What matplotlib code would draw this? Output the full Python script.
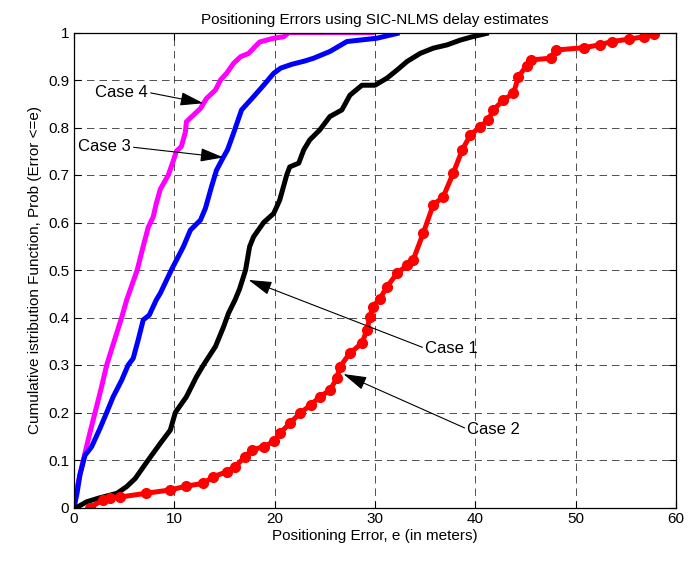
import numpy as np
import matplotlib
matplotlib.use("Agg")
import matplotlib.pyplot as plt

# CDF curves (positioning error in m, cumulative probability)
case4_x = [0, 0.3, 0.6, 0.93, 1.5, 2.1, 2.7, 3.26, 4.0, 4.75, 5.25, 5.8, 6.3, 6.9, 7.4, 7.9,
           8.2, 8.6, 9.4, 9.9, 10.2, 10.7, 11.1, 11.2, 12.6, 13.2, 14.1, 14.6, 15.2, 15.9,
           16.6, 17.4, 18.5, 19.9, 20.9, 21.4, 25.0, 29.7]
case4_y = [0, 0.04, 0.07, 0.1, 0.15, 0.2, 0.25, 0.3, 0.35, 0.4, 0.437, 0.47, 0.5, 0.55, 0.59, 0.612,
           0.64, 0.67, 0.70, 0.73, 0.75, 0.76, 0.79, 0.812, 0.84, 0.861, 0.879, 0.9, 0.914, 0.935,
           0.949, 0.956, 0.98, 0.988, 0.991, 1.0, 1.0, 1.0]

case3_x = [0, 0.3, 0.6, 1.1, 1.76, 2.6, 3.26, 3.9, 4.75, 5.4, 5.9, 6.4, 6.9, 7.5, 8.2, 8.6,
           9.7, 10.9, 11.6, 12.6, 13.1, 13.7, 14.2, 14.9, 15.3, 15.9, 16.7, 17.9, 18.9, 19.9,
           20.6, 21.7, 23.0, 23.9, 25.5, 27.2, 30.2, 31.2, 32.2]
case3_y = [0, 0.03, 0.07, 0.11, 0.128, 0.167, 0.2, 0.233, 0.268, 0.3, 0.314, 0.353, 0.395, 0.405,
           0.437, 0.451, 0.5, 0.549, 0.584, 0.605, 0.63, 0.675, 0.71, 0.738, 0.753, 0.788, 0.837,
           0.865, 0.889, 0.914, 0.925, 0.933, 0.94, 0.946, 0.96, 0.981, 0.988, 0.993, 0.998]

case1_x = [0.27, 1.26, 2.5, 4.3, 5.25, 6.1, 7.4, 8.6, 9.6, 10.1, 11.2, 12.2, 12.9, 14.1, 14.9,
           15.4, 16.05, 16.5, 17.1, 17.5, 17.9, 18.9, 19.9, 20.5, 21.2, 21.5, 22.4, 22.9, 23.5,
           24.5, 25.5, 26.7, 27.5, 28.7, 30.0, 31.2, 32.2, 33.2, 34.5, 35.8, 37.2, 38.5, 39.7, 41.1]
case1_y = [0, 0.012, 0.02, 0.03, 0.044, 0.061, 0.1, 0.135, 0.163, 0.2, 0.233, 0.275, 0.3, 0.339,
           0.38, 0.409, 0.437, 0.46, 0.5, 0.549, 0.57, 0.6, 0.619, 0.647, 0.7, 0.717, 0.725, 0.753,
           0.774, 0.795, 0.823, 0.837, 0.868, 0.889, 0.889, 0.904, 0.921, 0.939, 0.956, 0.967,
           0.974, 0.984, 0.991, 0.998]

case2_x = [1.6, 2.9, 3.6, 4.6, 7.2, 9.6, 11.2, 12.9, 13.9, 15.2, 16.05, 17.05, 17.7, 18.9, 19.9,
           20.5, 21.5, 22.5, 23.6, 24.5, 25.5, 26.2, 26.5, 27.5, 28.7, 29.2, 29.5, 29.8, 30.5,
           31.2, 32.2, 33.2, 33.8, 34.8, 35.8, 36.8, 37.8, 38.7, 39.5, 40.5, 41.3, 41.8, 42.8,
           43.8, 44.3, 45.1, 45.5, 47.5, 48.0, 50.8, 52.4, 53.6, 55.3, 56.8, 57.8]
case2_y = [0, 0.016, 0.02, 0.022, 0.03, 0.037, 0.045, 0.051, 0.065, 0.075, 0.086, 0.107, 0.121,
           0.128, 0.139, 0.156, 0.177, 0.198, 0.216, 0.233, 0.247, 0.272, 0.296, 0.325, 0.346,
           0.374, 0.402, 0.423, 0.44, 0.465, 0.493, 0.51, 0.521, 0.577, 0.637, 0.654, 0.704,
           0.753, 0.784, 0.802, 0.816, 0.837, 0.858, 0.872, 0.907, 0.93, 0.942, 0.946, 0.963,
           0.968, 0.974, 0.981, 0.986, 0.991, 0.996]

# annotation: label, text position, arrow tip
case_labels = ["Case 4", "Case 3", "Case 1", "Case 2"]
label_xy = [(2.1, 0.874), (0.4, 0.759), (35.0, 0.335), (39.2, 0.165)]
tip_xy = [(12.9, 0.851), (14.9, 0.737), (17.4, 0.479), (26.85, 0.281)]

plt.rcParams['font.family'] = ['Liberation Sans', 'DejaVu Sans']
plt.rcParams['font.size'] = 11

fig = plt.figure(figsize=(6.89, 5.61), dpi=100)
ax = fig.add_axes([74 / 689, 1 - 507.5 / 561, 602 / 689, 475 / 561])

lw = 3.6
ax.plot(case4_x, case4_y, color='#ff00ff', linewidth=lw)
ax.plot(case3_x, case3_y, color='#0000ff', linewidth=lw)
ax.plot(case1_x, case1_y, color='black', linewidth=lw)
ax.plot(case2_x, case2_y, color='#ff0000', linewidth=lw, marker='o', markersize=7)

for lab, txy, tip in zip(case_labels, label_xy, tip_xy):
    # left labels: arrow leaves from the end of the text, right labels: from its start
    rel = (1.0, 0.5) if lab in ("Case 4", "Case 3") else (0.0, 0.5)
    ax.annotate(lab, xy=tip, xytext=txy, ha='left', va='center', fontsize=12,
                arrowprops=dict(arrowstyle='-|>,head_length=1.2,head_width=0.35',
                                color='black', lw=0.8, shrinkA=0, shrinkB=0,
                                relpos=rel))

ax.set_xlim(0, 60)
ax.set_ylim(0, 1)
ax.set_xticks(np.arange(0, 61, 10))
ax.set_yticks(np.round(np.arange(0, 1.01, 0.1), 1))
ax.set_yticklabels(['0', '0.1', '0.2', '0.3', '0.4', '0.5', '0.6', '0.7', '0.8', '0.9', '1'])
ax.grid(True, color='black', linewidth=0.6, linestyle=(0, (9, 6)), alpha=0.8)
ax.tick_params(direction='in', top=True, right=True, length=5, width=0.8, labelsize=11)
for sp in ax.spines.values():
    sp.set_linewidth(0.9)

ax.set_title("Positioning Errors using SIC-NLMS delay estimates", fontsize=11, pad=6)
ax.set_xlabel("Positioning Error, e (in meters)", fontsize=11, labelpad=2)
ax.set_ylabel("Cumulative istribution Function, Prob (Error <=e)", fontsize=11, labelpad=4)

fig.savefig("out.png", dpi=100)
